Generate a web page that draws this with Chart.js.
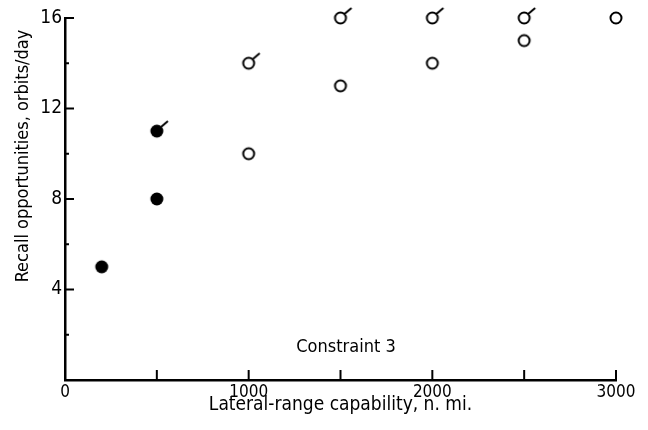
<!DOCTYPE html>
<html>
<head>
<meta charset="utf-8">
<script src="https://cdn.jsdelivr.net/npm/chart.js@4/dist/chart.umd.min.js"></script>
<style>
  html, body { margin: 0; padding: 0; background: #fff; }
  #wrap { width: 648px; height: 430px; }
</style>
</head>
<body>
<div id="wrap"><canvas id="chart" width="648" height="430"></canvas></div>
<script>
// values
const solidX = [200, 500, 500];
const solidY = [5, 8, 11];
const solidFlag = [false, false, true];

const openX = [1000, 1000, 1500, 1500, 2000, 2000, 2500, 2500, 3000];
const openY = [10, 14, 13, 16, 14, 16, 15, 16, 16];
const openFlag = [false, true, false, true, false, true, false, true, false];

const xTicks = [0, 1000, 2000, 3000];
const yTicks = [4, 8, 12, 16];
const xMinor = [500, 1000, 1500, 2000, 2500, 3000];
const yMinor = [2, 4, 6, 8, 10, 12, 14, 16];

const xTitle = 'Lateral-range capability, n. mi.';
const yTitle = 'Recall opportunities, orbits/day';
const note = 'Constraint 3';

const FONT = "'Liberation Sans Narrow', 'DejaVu Sans Condensed', sans-serif";

// circle marker, optionally with the little flag at upper right
function marker(filled, flagged) {
  const c = document.createElement('canvas');
  c.width = 32;
  c.height = 32;
  const g = c.getContext('2d');
  g.strokeStyle = '#000';
  g.fillStyle = '#000';
  g.lineWidth = 2;
  g.beginPath();
  if (filled) {
    g.arc(16, 16, 6.5, 0, Math.PI * 2);
    g.fill();
  } else {
    g.arc(16, 16, 5.5, 0, Math.PI * 2);
    g.stroke();
  }
  if (flagged) {
    g.beginPath();
    g.moveTo(20, 12);
    g.lineTo(27, 6);
    g.stroke();
  }
  return c;
}

const styles = {
  solid: marker(true, false),
  solidFlag: marker(true, true),
  open: marker(false, false),
  openFlag: marker(false, true),
};

const toPoints = (xs, ys) => xs.map((x, i) => ({ x, y: ys[i] }));

const extras = {
  id: 'extras',
  afterDraw(chart) {
    const { ctx, scales: { x, y } } = chart;
    ctx.save();
    ctx.strokeStyle = '#000';
    ctx.lineWidth = 2;
    // inward ticks
    const y0 = y.getPixelForValue(0);
    xMinor.forEach((v) => {
      const px = x.getPixelForValue(v);
      ctx.beginPath();
      ctx.moveTo(px, y0);
      ctx.lineTo(px, y0 - 10);
      ctx.stroke();
    });
    const x0 = x.getPixelForValue(0);
    yMinor.forEach((v) => {
      const py = y.getPixelForValue(v);
      const len = v % 4 === 0 ? 9 : 4;
      ctx.beginPath();
      ctx.moveTo(x0, py);
      ctx.lineTo(x0 + len, py);
      ctx.stroke();
    });
    // y title, sits high on the axis
    ctx.fillStyle = '#000';
    ctx.font = '18px ' + FONT;
    ctx.textAlign = 'center';
    ctx.textBaseline = 'middle';
    ctx.translate(23, y.getPixelForValue(9.9));
    ctx.rotate(-Math.PI / 2);
    ctx.fillText(yTitle, 0, 0);
    ctx.restore();

    ctx.save();
    ctx.fillStyle = '#000';
    ctx.font = '18px ' + FONT;
    ctx.textAlign = 'center';
    ctx.textBaseline = 'middle';
    ctx.fillText(note, x.getPixelForValue(1530), y.getPixelForValue(1.45));
    ctx.restore();
  },
};

new Chart(document.getElementById('chart'), {
  type: 'scatter',
  data: {
    datasets: [
      {
        data: toPoints(solidX, solidY),
        pointStyle: solidFlag.map((f) => (f ? styles.solidFlag : styles.solid)),
        pointRadius: 7,
        clip: false,
      },
      {
        data: toPoints(openX, openY),
        pointStyle: openFlag.map((f) => (f ? styles.openFlag : styles.open)),
        pointRadius: 7,
        clip: false,
      },
    ],
  },
  options: {
    responsive: false,
    animation: false,
    layout: { padding: { top: 18, right: 32, left: 0, bottom: 0 } },
    plugins: {
      legend: { display: false },
      tooltip: { enabled: false },
    },
    scales: {
      x: {
        type: 'linear',
        min: 0,
        max: 3000,
        afterBuildTicks: (s) => { s.ticks = xTicks.map((v) => ({ value: v })); },
        afterFit: (s) => { s.height = 50; },
        ticks: {
          color: '#000',
          font: { family: FONT, size: 17 },
          padding: 2,
          maxRotation: 0,
          callback: (v) => String(v),
        },
        grid: { display: false, drawTicks: false },
        border: { color: '#000', width: 2.5 },
        title: {
          display: true,
          text: xTitle,
          color: '#000',
          font: { family: FONT, size: 19 },
          padding: { top: 0, bottom: 14 },
        },
      },
      y: {
        min: 0,
        max: 16,
        afterBuildTicks: (s) => { s.ticks = yTicks.map((v) => ({ value: v })); },
        afterFit: (s) => { s.width = 65; },
        ticks: {
          color: '#000',
          font: { family: FONT, size: 19 },
          padding: 3,
        },
        grid: { display: false, drawTicks: false },
        border: { color: '#000', width: 2.5 },
      },
    },
  },
  plugins: [extras],
});
</script>
</body>
</html>
